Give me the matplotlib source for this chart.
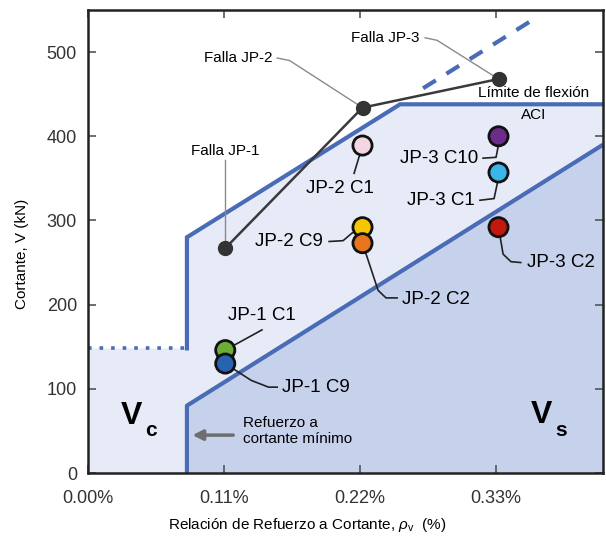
import matplotlib.pyplot as plt
import numpy as np

plt.rcParams['font.family'] = ['Liberation Sans', 'DejaVu Sans']
plt.rcParams['mathtext.fontset'] = 'custom'
plt.rcParams['mathtext.rm'] = 'Liberation Sans'
plt.rcParams['mathtext.it'] = 'Liberation Sans:italic'

# shear reinforcement ratio (%) of each specimen
rho_jp1 = 0.111
rho_jp2 = 0.222
rho_jp3 = 0.332

# measured shear at failure (kN)
fail_rho = [rho_jp1, rho_jp2, rho_jp3]
fail_v = [267, 434, 468]
fail_names = ["Falla JP-1", "Falla JP-2", "Falla JP-3"]

# shear at each instrumented column (kN)
test_names = ["JP-1 C1", "JP-1 C9", "JP-2 C1", "JP-2 C9", "JP-2 C2",
              "JP-3 C10", "JP-3 C1", "JP-3 C2"]
test_rho = [rho_jp1, rho_jp1, rho_jp2, rho_jp2, rho_jp2, rho_jp3, rho_jp3, rho_jp3]
test_v = [146, 130, 389, 292, 273, 400, 357, 292]
test_colors = ["#6cad38", "#2863b2", "#f4d6e2", "#f7c600", "#e8761e",
               "#6b2c8c", "#3bb5e8", "#c4170f"]

# ACI limits
rho_min = 0.08
x_max = 0.4165
vc_rho = [0.0, rho_min]
vc_v = [148, 148]
vs_rho = [rho_min, rho_min, x_max]
vs_v = [0, 80, 390]
cap_rho = [rho_min, rho_min, 0.2524, x_max]
cap_v = [148, 280, 438, 438]
flex_rho = [0.271, 0.3615]
flex_v = [457, 540]

line_blue = "#4a6cb6"

fig = plt.figure(figsize=(6.06, 5.37), dpi=100)
ax = fig.add_axes([88 / 606, 64 / 537, 515 / 606, 463 / 537])
ax.set_xlim(0, x_max)
ax.set_ylim(0, 550)

# shaded regions
ax.fill(np.r_[0, vc_rho, cap_rho[1:], x_max, x_max],
        np.r_[0, vc_v, cap_v[1:], 0, 0], color="#e7ebf7", zorder=0, lw=0)
ax.fill(np.r_[vs_rho, x_max], np.r_[vs_v, 0], color="#c6d1ec", zorder=1, lw=0)

ax.plot(vs_rho, vs_v, color=line_blue, lw=3, zorder=2, solid_capstyle="butt")
ax.plot(cap_rho, cap_v, color=line_blue, lw=3, zorder=2, solid_joinstyle="miter")
ax.plot(vc_rho, vc_v, color=line_blue, lw=2.6, ls=(0, (1, 2.2)), zorder=2)
ax.plot(flex_rho, flex_v, color=line_blue, lw=3, ls=(0, (3.6, 3)), zorder=2)

# failure path
ax.plot(fail_rho, fail_v, color="#3a3a3a", lw=1.8, marker="o", ms=10,
        mfc="#333333", mec="#333333", zorder=5)

ax.scatter(test_rho, test_v, s=190, c=test_colors, edgecolors="#111111",
           linewidths=2, zorder=6)

# leader lines
grey = "#8a8a8a"
dark = "#222222"
ax.plot([fail_rho[0], fail_rho[0]], [372, fail_v[0]], color=grey, lw=1, zorder=4)
ax.plot([0.153, 0.163, fail_rho[1]], [493, 490, fail_v[1]], color=grey, lw=1, zorder=4)
ax.plot([0.2726, 0.2823, fail_rho[2]], [517, 514, fail_v[2]], color=grey, lw=1, zorder=4)

ax.plot([0.1407, test_rho[0]], [170, test_v[0]], color=dark, lw=1.2, zorder=4)
ax.plot([test_rho[1], 0.132, 0.146, 0.153], [test_v[1], 110, 102, 102], color=dark, lw=1.2, zorder=4)
ax.plot([test_rho[2], 0.2152], [test_v[2], 356], color=dark, lw=1.2, zorder=4)
ax.plot([0.195, 0.2063, 0.2135, test_rho[3]], [275, 276, 285, test_v[3]], color=dark, lw=1.2, zorder=4)
ax.plot([test_rho[4], 0.2346, 0.241, 0.250], [test_v[4], 217, 208, 208], color=dark, lw=1.2, zorder=4)
ax.plot([0.3195, 0.330, 0.3316, test_rho[5]], [374, 375, 387, test_v[5]], color=dark, lw=1.2, zorder=4)
ax.plot([0.317, 0.3284, 0.3316, test_rho[6]], [324, 326, 348, test_v[6]], color=dark, lw=1.2, zorder=4)
ax.plot([test_rho[7], 0.3357, 0.3421, 0.350], [test_v[7], 260, 251, 250], color=dark, lw=1.2, zorder=4)

# labels
ax.text(0.1108, 383, fail_names[0], fontsize=11, ha="center", va="center", zorder=7)
ax.text(0.149, 493, fail_names[1], fontsize=11, ha="right", va="center", zorder=7)
ax.text(0.2685, 517, fail_names[2], fontsize=11, ha="right", va="center", zorder=7)
ax.text(0.3607, 451, "Límite de flexión", fontsize=11, ha="center", va="center", zorder=7)
ax.text(0.3607, 425, "ACI", fontsize=11, ha="center", va="center", zorder=7)

lab = dict(fontsize=13.5, va="center", zorder=7)
ax.text(0.1407, 187, test_names[0], ha="center", **lab)
ax.text(0.157, 102, test_names[1], ha="left", **lab)
ax.text(0.2038, 338, test_names[2], ha="center", **lab)
ax.text(0.190, 275, test_names[3], ha="right", **lab)
ax.text(0.254, 206, test_names[4], ha="left", **lab)
ax.text(0.3154, 374, test_names[5], ha="right", **lab)
ax.text(0.313, 324, test_names[6], ha="right", **lab)
ax.text(0.355, 250, test_names[7], ha="left", **lab)

ax.text(0.1254, 50, "Refuerzo a\ncortante mínimo", fontsize=11, ha="left",
        va="center", linespacing=1.15, zorder=7)
ax.annotate("", xy=(0.0822, 45), xytext=(0.1197, 45),
            arrowprops=dict(arrowstyle="-|>,head_length=0.6,head_width=0.3",
                            color="#6e6e6e", lw=2.5), zorder=7)

ax.text(0.0348, 68, "V", fontsize=23, fontweight="bold", ha="center", va="center", zorder=7)
ax.text(0.0505, 50, "c", fontsize=15, fontweight="bold", ha="center", va="center", zorder=7)
ax.text(0.3664, 69, "V", fontsize=23, fontweight="bold", ha="center", va="center", zorder=7)
ax.text(0.3826, 50, "s", fontsize=15, fontweight="bold", ha="center", va="center", zorder=7)

ax.set_xticks([0, 0.11, 0.22, 0.33])
ax.set_xticklabels(["0.00%", "0.11%", "0.22%", "0.33%"])
ax.set_yticks([0, 100, 200, 300, 400, 500])
ax.tick_params(axis="both", direction="in", top=True, right=True, length=6,
               width=1.2, color="#555555", labelsize=13, labelcolor="#333333")
ax.tick_params(axis="x", pad=12)
ax.tick_params(axis="y", pad=8)
for s in ax.spines.values():
    s.set_linewidth(1.8)
    s.set_color("#222222")

fig.text(307 / 606, 1 - 525 / 537, r"Relación de Refuerzo a Cortante, $\rho_{\mathrm{v}}$  (%)",
         fontsize=11, ha="center", va="center")
fig.text(22 / 606, 1 - 254 / 537, "Cortante, V (kN)", fontsize=11, rotation=90,
         ha="center", va="center")

fig.savefig("out.png", dpi=100)
